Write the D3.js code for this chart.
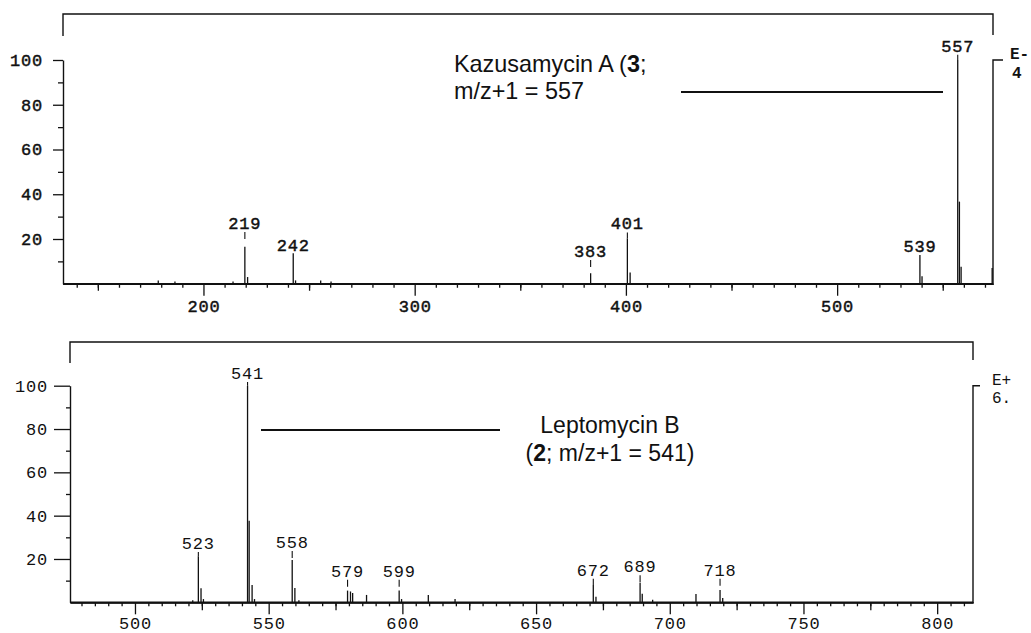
<!DOCTYPE html>
<html><head><meta charset="utf-8">
<script src="https://cdn.jsdelivr.net/npm/d3@7"></script>
<style>body{margin:0;background:#fff}svg{display:block}</style>
</head><body>
<svg id="c" width="1031" height="633"></svg>
<script>
// ---------- DATA ----------
// Top spectrum: Kazusamycin A
const topMz        = [178.6, 186.5, 214.0, 219.6, 220.9, 242.5, 243.6, 255.5, 260.4, 383.3, 400.7, 402.0, 539.2, 540.2, 557.1, 557.9, 558.7, 573.4];
const topIntensity = [1.5,   1.0,   1.0,   16.5,  3.0,   13.6,  1.5,   1.5,   1.0,   4.7,   20.3,  5.0,   12.8,  3.4,   100,   36.7,  7.6,   7.0];
const topLabelMz    = [219.6, 242.5, 383.3, 400.7, 539.2, 557.1];
const topLabelText  = ["219", "242", "383", "401", "539", "557"];
const topLabelLevel = [24.5, 14.6, 12.0, 24.3, 14.3, 103.7];
const topXTickLabels = [200, 300, 400, 500];

// Bottom spectrum: Leptomycin B
const botMz        = [521.6, 523.7, 524.7, 525.6, 542.1, 542.7, 543.8, 544.7, 558.8, 559.8, 561.3, 579.5, 580.6, 581.4, 586.6, 598.8, 599.7, 609.7, 619.7, 671.4, 672.4, 688.9, 689.7, 693.6, 709.8, 718.8, 719.8];
const botIntensity = [1.0,   21.2,  6.5,   1.5,   100,   37.7,  8.0,   1.5,   19.5,  6.6,   1.0,   5.4,   5.0,   4.3,   3.4,   5.4,   1.5,   3.4,   1.5,   8.0,   2.6,   9.0,   4.0,   1.2,   3.8,   5.7,   2.0];
const botLabelMz    = [523.7, 542.1, 558.8, 579.5, 598.8, 671.4, 688.9, 718.8];
const botLabelText  = ["523", "541", "558", "579", "599", "672", "689", "718"];
const botLabelLevel = [24.6, 103.1, 25.1, 11.8, 11.8, 12.3, 13.9, 12.3];
const botXTickLabels = [500, 550, 600, 650, 700, 750, 800];

const yTickLabels = [20, 40, 60, 80, 100];
const yMinorTicks = [10, 30, 50, 70, 90];

// ---------- DRAWING ----------
const svg = d3.select("#c");
const INK = "#111";
const MONO = "'Liberation Mono', 'Courier New', monospace";
const SANS = "'Liberation Sans', Arial, sans-serif";

function styleMono(sel, cfg) {
  sel.attr("font-family", MONO).attr("font-size", cfg.fs).attr("fill", INK)
    .attr("letter-spacing", cfg.ls).attr("stroke", cfg.ts > 0 ? INK : "none").attr("stroke-width", cfg.ts);
}

function panel(cfg, mz, inten, lmz, ltxt, llev, majors) {
  const g = svg.append("g");
  const x = d3.scaleLinear().domain(cfg.domain).range([cfg.x0, cfg.x1]);
  const y = d3.scaleLinear().domain([0, 100]).range([cfg.yBase, cfg.yTop]);

  // frame bracket on top
  g.append("path")
    .attr("d", `M${cfg.x0},${cfg.frameLeftBottom} V${cfg.frameY} H${cfg.x1} V${cfg.frameRightBottom}`)
    .attr("fill", "none").attr("stroke", INK).attr("stroke-width", 1.4);

  // right axis line with outward tick
  g.append("path")
    .attr("d", `M${cfg.x1},${cfg.yBase} V${y(100)} H${cfg.x1 + cfg.rightTick}`)
    .attr("fill", "none").attr("stroke", INK).attr("stroke-width", 1.4);

  // x-axis: minor, medium, major
  const minor = d3.range(cfg.tickStart, cfg.tickEnd + 1e-6, cfg.minorStep);
  const medium = minor.filter(v => Math.abs(v % cfg.medStep) < 1e-6 && !majors.includes(v));
  const ax = (vals, size, fmt) => d3.axisBottom(x).tickValues(vals).tickSizeInner(size).tickSizeOuter(0)
    .tickPadding(cfg.xPad).tickFormat(fmt);
  const xa1 = g.append("g").attr("transform", `translate(0,${cfg.yBase})`).call(ax(minor.filter(v => !majors.includes(v)), cfg.tMinor, () => ""));
  const xa2 = g.append("g").attr("transform", `translate(0,${cfg.yBase})`).call(ax(medium, cfg.tMed, () => ""));
  const xa3 = g.append("g").attr("transform", `translate(0,${cfg.yBase})`).call(ax(majors, cfg.tMajor, d3.format("d")));
  [xa1, xa2, xa3].forEach(a => {
    a.select(".domain").attr("stroke", INK).attr("stroke-width", 1.4);
    a.selectAll(".tick line").attr("stroke", INK).attr("stroke-width", 1.3);
    styleMono(a.selectAll("text"), cfg);
  });
  g.append("line").attr("x1", cfg.x0).attr("x2", cfg.x1).attr("y1", cfg.yBase).attr("y2", cfg.yBase)
    .attr("stroke", INK).attr("stroke-width", 1.4);

  // y-axis
  const ya = g.append("g").attr("transform", `translate(${cfg.x0},0)`)
    .call(d3.axisLeft(y).tickValues(yTickLabels).tickSizeInner(cfg.yMajor).tickSizeOuter(0).tickPadding(cfg.yPad).tickFormat(d3.format("d")));
  const ym = g.append("g").attr("transform", `translate(${cfg.x0},0)`)
    .call(d3.axisLeft(y).tickValues(yMinorTicks).tickSizeInner(cfg.yMinor).tickSizeOuter(0).tickFormat(() => ""));
  [ya, ym].forEach(a => {
    a.select(".domain").attr("stroke", INK).attr("stroke-width", 1.4);
    a.selectAll(".tick line").attr("stroke", INK).attr("stroke-width", 1.3);
    styleMono(a.selectAll("text"), cfg);
  });
  ym.select(".domain").remove();

  // peaks
  g.append("g").selectAll("line").data(mz.map((m, i) => [m, inten[i]])).join("line")
    .attr("x1", d => x(d[0])).attr("x2", d => x(d[0]))
    .attr("y1", y(0)).attr("y2", d => y(d[1]))
    .attr("stroke", INK).attr("stroke-width", 1.3);

  // peak labels with leaders
  const lab = lmz.map((m, i) => ({ m, t: ltxt[i], lev: llev[i], top: y(inten[mz.indexOf(m)]) }));
  styleMono(g.append("g").selectAll("text").data(lab).join("text")
    .attr("x", d => x(d.m)).attr("y", d => y(d.lev))
    .attr("text-anchor", "middle")
    .text(d => d.t), cfg);
  g.append("g").selectAll("line").data(lab.filter(d => d.top - y(d.lev) > 4)).join("line")
    .attr("x1", d => x(d.m)).attr("x2", d => x(d.m))
    .attr("y1", d => y(d.lev) + 3).attr("y2", d => Math.min(y(d.lev) + 10, d.top))
    .attr("stroke", INK).attr("stroke-width", 1.1);

  return { g, x, y };
}

// top panel
const T = panel({
  x0: 63, x1: 993, yTop: 60, yBase: 283.75, domain: [133.5, 573.8],
  frameY: 14, frameLeftBottom: 36, frameRightBottom: 35, rightTick: 10,
  tickStart: 140, tickEnd: 570, minorStep: 10, medStep: 50,
  tMinor: 4, tMed: 7, tMajor: 12, xPad: 4, yMajor: 10, yMinor: 5, yPad: 10,
  fs: 17, ls: 0.8, ts: 0.45
}, topMz, topIntensity, topLabelMz, topLabelText, topLabelLevel, topXTickLabels);

// bottom panel
const B = panel({
  x0: 70, x1: 973, yTop: 385.7, yBase: 602.3, domain: [475.7, 813.4],
  frameY: 342, frameLeftBottom: 363, frameRightBottom: 360, rightTick: 7,
  tickStart: 480, tickEnd: 810, minorStep: 5, medStep: 25,
  tMinor: 4, tMed: 8, tMajor: 12, xPad: 3, yMajor: 16, yMinor: 4, yPad: 6,
  fs: 17, ls: 0.8, ts: 0
}, botMz, botIntensity, botLabelMz, botLabelText, botLabelLevel, botXTickLabels);

// annotations - top
const ta = T.g.append("text").attr("font-family", SANS).attr("font-size", 23.4).attr("fill", INK);
ta.append("tspan").attr("x", 454).attr("y", 72.3).text("Kazusamycin A (");
ta.append("tspan").attr("font-weight", "bold").text("3");
ta.append("tspan").text(";");
T.g.append("text").attr("font-family", SANS).attr("font-size", 23.4).attr("fill", INK)
  .attr("x", 454).attr("y", 99.3).text("m/z+1 = 557");
T.g.append("line").attr("x1", 681).attr("x2", 943).attr("y1", 92).attr("y2", 92)
  .attr("stroke", INK).attr("stroke-width", 2);
T.g.append("text").attr("font-family", MONO).attr("font-size", 16).attr("font-weight", "bold").attr("fill", INK)
  .attr("x", 1010).attr("y", 59).text("E-");
T.g.append("text").attr("font-family", MONO).attr("font-size", 16).attr("font-weight", "bold").attr("fill", INK)
  .attr("x", 1012).attr("y", 78).text("4");

// annotations - bottom
B.g.append("text").attr("font-family", SANS).attr("font-size", 23).attr("fill", INK)
  .attr("x", 610).attr("y", 432.7).attr("text-anchor", "middle").text("Leptomycin B");
const ba = B.g.append("text").attr("font-family", SANS).attr("font-size", 23).attr("fill", INK)
  .attr("x", 610).attr("y", 460.5).attr("text-anchor", "middle");
ba.append("tspan").text("(");
ba.append("tspan").attr("font-weight", "bold").text("2");
ba.append("tspan").text("; m/z+1 = 541)");
B.g.append("line").attr("x1", 261).attr("x2", 500).attr("y1", 430).attr("y2", 430)
  .attr("stroke", INK).attr("stroke-width", 2);
B.g.append("text").attr("font-family", MONO).attr("font-size", 16).attr("fill", INK)
  .attr("x", 992).attr("y", 385).text("E+");
B.g.append("text").attr("font-family", MONO).attr("font-size", 16).attr("fill", INK)
  .attr("x", 992).attr("y", 403).text("6.");
</script>
</body></html>
